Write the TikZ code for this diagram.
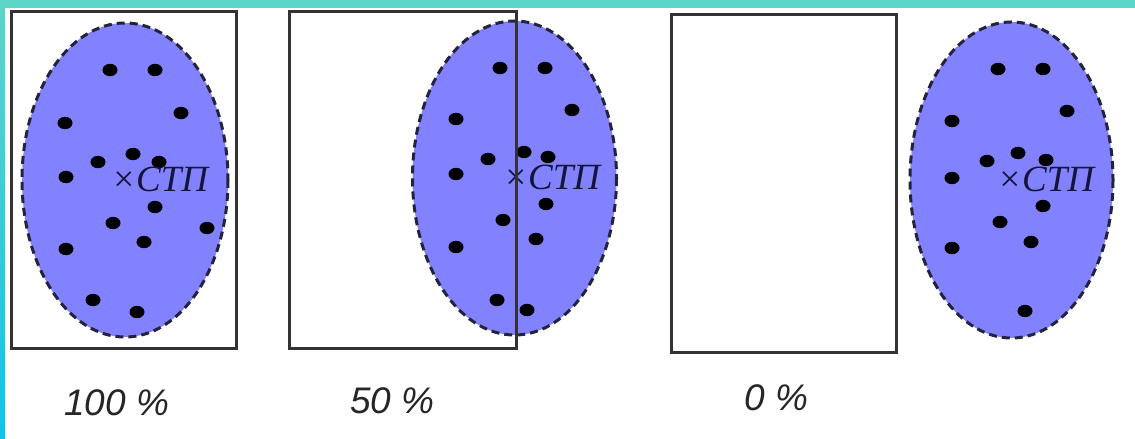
\documentclass[tikz,border=0pt]{standalone}
\usepackage{fontspec}
\setmainfont{Liberation Serif}
\newfontfamily\lblfont{Liberation Sans}
\begin{document}
\begin{tikzpicture}[x=1pt,y=-1pt,
  frame/.style={draw=black!80,line width=3pt},
  zone/.style={fill=zonefill,draw=zoneline,line width=3pt,dash pattern=on 8pt off 5pt},
  hit/.style={fill=black},
  stp/.style={anchor=base west,inner sep=0pt,text=stptext,font=\itshape\fontsize{37}{37}\selectfont},
  pct/.style={anchor=base west,inner sep=0pt,text=black!85,font=\lblfont\itshape\fontsize{37}{37}\selectfont}]
\definecolor{zonefill}{RGB}{130,130,255}
\definecolor{zoneline}{RGB}{35,35,60}
\definecolor{stptext}{RGB}{20,20,60}
\definecolor{bandtop}{RGB}{92,214,198}
\definecolor{bandbot}{RGB}{14,196,234}
% background and frame bands
\fill[white] (0,0) rectangle (1135,439);
\useasboundingbox (0,0) rectangle (1135,439);
\fill[bandtop] (0,0) rectangle (1135,8);
\shade[top color=bandtop,bottom color=bandbot] (0,0) rectangle (5,439);
% ---------- panel 1: 100 % ----------
\path[zone] (125,180) ellipse [x radius=103,y radius=157];
\foreach \px/\py in {110/70,155/70,181/113,65/123,98/162,133/154,159/162,66/177,155/207,113/223,207/228,144/242,66/249,93/300,137/312}
  \fill[hit] (\px,\py) ellipse [x radius=7.5,y radius=6.2];
\node[stp] (stpA) at (111,191) {×СТП};
\draw[frame] (11,11) rectangle (236,348);
\node[pct] (pA) at (64,415) {100 \%};
% ---------- panel 2: 50 % ----------
\path[zone] (514.5,178) ellipse [x radius=102,y radius=157];
\foreach \px/\py in {500/68,545/68,572/110,456/119,488/159,524/152,548/157,456/174,546/204,503/220,536/239,456/247,497/300,527/310}
  \fill[hit] (\px,\py) ellipse [x radius=7.5,y radius=6.2];
\node[stp] (stpB) at (503,189) {×СТП};
\draw[frame] (289,11) rectangle (516,348);
\node[pct] (pB) at (350,413) {50 \%};
% ---------- panel 3: 0 % ----------
\draw[frame] (671,14) rectangle (896,352);
\path[zone] (1011.5,180) ellipse [x radius=101.5,y radius=158];
\foreach \px/\py in {998/69,1043/69,1067/111,952/121,987/161,1018/153,1046/160,952/178,1043/206,1000/222,1031/242,952/248,1025/311}
  \fill[hit] (\px,\py) ellipse [x radius=7.5,y radius=6.2];
\node[stp] (stpC) at (997,191) {×СТП};
\node[pct] (pC) at (744,410) {0 \%};
\end{tikzpicture}
\end{document}
